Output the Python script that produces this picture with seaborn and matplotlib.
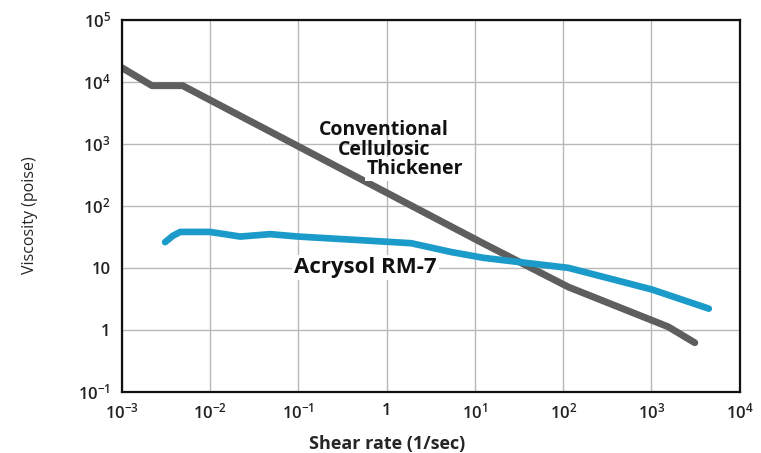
#!/usr/bin/env python3
"""
Viscosity vs shear rate: Acrysol RM-7 against a conventional cellulosic thickener
"""

import numpy as np
import pandas as pd
import matplotlib
matplotlib.use("Agg")
import matplotlib.pyplot as plt
import seaborn as sns

# Values (shear rate in 1/sec, viscosity in poise)
cellulosic_shear = [1e-3, 2.2e-3, 4.9e-3, 11.7, 115.0, 1550.0, 3100.0]
cellulosic_visc = [1.7e4, 8.7e3, 8.7e3, 26.0, 4.9, 1.12, 0.62]

acrysol_shear = [3.1e-3, 3.8e-3, 4.6e-3, 1.0e-2, 2.2e-2, 4.8e-2, 0.1, 0.5, 1.9, 5.4, 12.6, 115.0, 1000.0, 4470.0]
acrysol_visc = [26.0, 33.0, 38.0, 38.0, 32.0, 35.0, 32.0, 28.0, 25.0, 18.0, 14.5, 10.0, 4.5, 2.2]

x_ticks = [1e-3, 1e-2, 1e-1, 1, 1e1, 1e2, 1e3, 1e4]
x_tick_labels = ["10$^{-3}$", "10$^{-2}$", "10$^{-1}$", "1", "10$^{1}$", "10$^{2}$", "10$^{3}$", "10$^{4}$"]
y_ticks = [1e-1, 1, 1e1, 1e2, 1e3, 1e4, 1e5]
y_tick_labels = ["10$^{-1}$", "1", "10", "10$^{2}$", "10$^{3}$", "10$^{4}$", "10$^{5}$"]

sns.set_style("white")
plt.rcParams["font.family"] = ["Open Sans", "DejaVu Sans"]
plt.rcParams["mathtext.default"] = "regular"

cell_df = pd.DataFrame({"shear": cellulosic_shear, "viscosity": cellulosic_visc})
acry_df = pd.DataFrame({"shear": acrysol_shear, "viscosity": acrysol_visc})

fig = plt.figure(figsize=(7.61, 4.53), dpi=100)
ax = fig.add_axes([0.160, 0.135, 0.812, 0.821])

ax.set_xscale("log")
ax.set_yscale("log")

sns.lineplot(data=cell_df, x="shear", y="viscosity", ax=ax, color="#5e5e5e",
             linewidth=5, solid_capstyle="round", sort=False)
sns.lineplot(data=acry_df, x="shear", y="viscosity", ax=ax, color="#1b9bc9",
             linewidth=4.8, solid_capstyle="round", sort=False)

ax.set_xlim(1e-3, 1e4)
ax.set_ylim(1e-1, 1e5)
ax.set_xticks(x_ticks)
ax.set_xticklabels(x_tick_labels)
ax.set_yticks(y_ticks)
ax.set_yticklabels(y_tick_labels)
ax.minorticks_off()
ax.tick_params(axis="both", length=0, labelsize=12, colors="#222222", pad=8)
for lbl in ax.get_xticklabels() + ax.get_yticklabels():
    lbl.set_fontweight("semibold")

ax.grid(True, which="major", color="#b8b8b8", linewidth=1.0)
ax.set_axisbelow(True)
for side in ax.spines.values():
    side.set_color("#111111")
    side.set_linewidth(1.6)

ax.set_xlabel("Shear rate (1/sec)", fontsize=13, fontweight="bold")
ax.xaxis.set_label_coords(0.43, -0.115)
ax.set_ylabel("Viscosity (poise)", fontsize=11.5)
ax.yaxis.set_label_coords(-0.135, 0.476)

# Curve annotations
box = dict(facecolor="white", edgecolor="none", pad=1.5)
ax.text(0.93, 1.7e3, "Conventional", fontsize=14, fontweight="bold", ha="center", va="center", color="#111111")
ax.text(0.95, 8.0e2, "Cellulosic", fontsize=14, fontweight="bold", ha="center", va="center", color="#111111")
ax.text(2.1, 3.9e2, "Thickener", fontsize=14, fontweight="bold", ha="center", va="center", color="#111111", bbox=box)
ax.text(0.58, 10.0, "Acrysol RM-7", fontsize=16, fontweight="bold", ha="center", va="center", color="#111111", bbox=box)

fig.savefig("out.png", dpi=100)
